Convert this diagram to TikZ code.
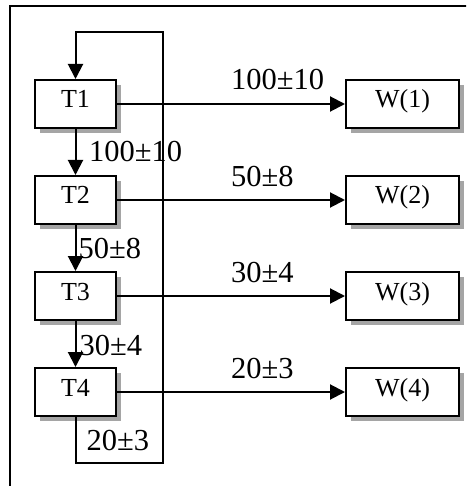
\documentclass[tikz,border=0pt]{standalone}
\usepackage{fontspec}
\setmainfont{Liberation Serif}
\usetikzlibrary{arrows.meta}
\definecolor{shadowgray}{RGB}{165,165,165}
\begin{document}
\begin{tikzpicture}[x=1pt,y=-1pt,
  box/.style={draw,line width=2pt,fill=white,minimum width=81pt,minimum height=48pt,
    inner sep=0pt,text height=17pt,text depth=9pt,font=\fontsize{26}{30}\selectfont},
  wbox/.style={box,minimum width=113pt},
  sh/.style={draw=none,fill=shadowgray,minimum height=48pt,inner sep=0pt},
  arr/.style={line width=2pt,-{Triangle[length=15pt,width=15pt]}},
  lbl/.style={anchor=base west,inner sep=0pt,font=\fontsize{30.5}{34}\selectfont}]
\useasboundingbox (0,0) rectangle (466,486);
\begin{scope}
\clip (0,0) rectangle (466,486);
\draw[line width=2pt] (9.5,6) rectangle (480,500);
\end{scope}
\coordinate (rb) at (163,463);
\coordinate (lt) at (75.5,32);
\foreach \i/\y in {1/104,2/200,3/296,4/392}{
  \node[sh,minimum width=81pt] (ST\i) at (80.5,\y+5) {};
  \node[sh,minimum width=113pt] (SW\i) at (407.5,\y+5) {};
  \node[box] (T\i) at (75.5,\y) {T\i};
  \node[wbox] (W\i) at (402.5,\y) {W(\i)};
}
\draw[arr] (T4.south) |- (rb) |- (lt) -- (T1.north);
\draw[arr] (T1.south) -- (T2.north);
\draw[arr] (T2.south) -- (T3.north);
\draw[arr] (T3.south) -- (T4.north);
\foreach \i in {1,2,3,4}{
  \draw[arr] (T\i.east) -- (W\i.west);
}
\node[lbl] (h1) at (231,90) {100±10};
\node[lbl] (h2) at (231,186.5) {50±8};
\node[lbl] (h3) at (231,282.5) {30±4};
\node[lbl] (h4) at (231,378.5) {20±3};
\node[lbl] (v1) at (89,162) {100±10};
\node[lbl] (v2) at (78.5,258) {50±8};
\node[lbl] (v3) at (79.5,355) {30±4};
\node[lbl] (v4) at (86.5,450) {20±3};
\end{tikzpicture}
\end{document}
